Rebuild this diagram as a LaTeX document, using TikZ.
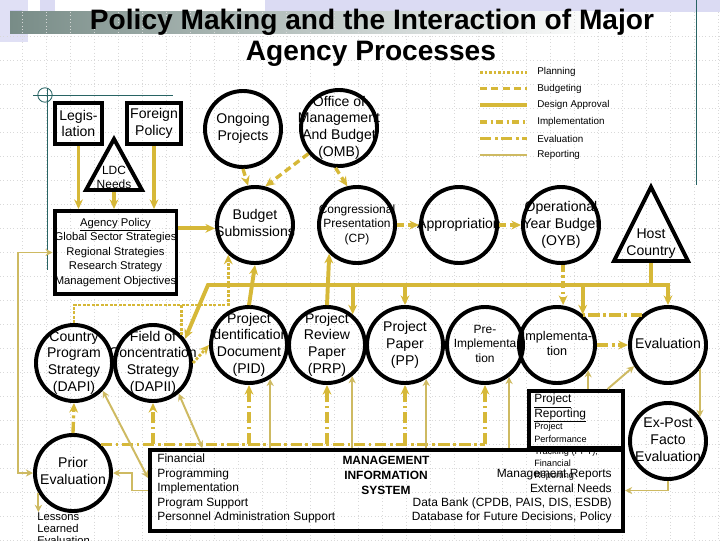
\documentclass[tikz,border=0pt]{standalone}
\usepackage{fontspec}
\setmainfont{Liberation Sans}
\usetikzlibrary{arrows.meta,positioning,calc}
\definecolor{agencyGold}{RGB}{214,184,56}
\definecolor{paleGold}{RGB}{206,186,98}
\definecolor{slideTeal}{RGB}{40,100,100}
\definecolor{lavender}{RGB}{204,204,238}
\definecolor{bannerGray}{RGB}{120,140,135}
\newcommand{\ringtext}[1]{\makebox[0pt]{\begin{tabular}{@{}c@{}}#1\end{tabular}}}

\begin{document}
\begin{tikzpicture}[
    x=0.025cm, y=-0.025cm,
    font=\fontsize{10}{12}\selectfont,
    >={Stealth[length=2.4mm,width=2.2mm]},
    ring/.style={circle, draw, line width=2.8pt, minimum size=1.9cm, inner sep=0pt},
    panel/.style={rectangle, draw, line width=2.8pt, inner sep=0pt, align=center},
    tri/.style={draw, line width=2.8pt, line join=miter},
    planline/.style={agencyGold, line width=2pt, dash pattern=on 2pt off 1.2pt},
    budgetline/.style={agencyGold, line width=2.4pt, dash pattern=on 5pt off 3pt},
    designline/.style={agencyGold, line width=2.8pt},
    implline/.style={agencyGold, line width=2.4pt, dash pattern=on 5pt off 2.5pt on 1.5pt off 2.5pt},
    evalline/.style={agencyGold, line width=2.4pt, dash pattern=on 8pt off 2.5pt on 2pt off 2.5pt},
    reportline/.style={paleGold, line width=1.4pt, >={Stealth[length=1.8mm,width=1.8mm]}},
    legtext/.style={font=\fontsize{7}{8}\selectfont, anchor=west, inner sep=0pt},
    textblock/.style={inner sep=0pt, font=\fontsize{8.5}{10.3}\selectfont}
]
\useasboundingbox (0,0) rectangle (720,540);
\clip (0,0) rectangle (720,540);

\fill[lavender!70] (265,0) rectangle (720,12);
\fill[lavender!60] (0,0) rectangle (28,42);
\fill[lavender] (10,10) rectangle (22,22);
\fill[lavender!80] (30,14) rectangle (48,30);
\fill[lavender!70] (40,0) rectangle (55,12);
\shade[left color=bannerGray, right color=white] (10,11) rectangle (600,33);
\foreach \gx in {22,46,...,718}
  \draw[gray!30, dotted, line width=0.4pt] (\gx,12) -- (\gx,540);
\foreach \gy in {36,60,...,540}
  \draw[gray!30, dotted, line width=0.4pt] (0,\gy) -- (720,\gy);
\draw[slideTeal, line width=0.6pt] (696,0) -- (696,185);
\draw[slideTeal, line width=0.6pt] (33,95) -- (173,95);
\draw[slideTeal, line width=0.6pt] (47,88) -- (47,270);
\draw[slideTeal, line width=0.6pt] (45,95) circle[radius=0.18cm];

\node[font=\bfseries\fontsize{20}{24}\selectfont] (title-top) at (372,22) {Policy Making and the Interaction of Major};
\node[font=\bfseries\fontsize{20}{24}\selectfont] (title-bottom) at (371,54) {Agency Processes};

\foreach \sty/\lab [count=\i] in {planline/Planning, budgetline/Budgeting, designline/Design Approval, implline/Implementation, evalline/Evaluation, reportline/Reporting}{
  \draw[\sty] (480,55.5+16.6*\i) -- (527,55.5+16.6*\i);
  \node[legtext] (key\i) at (537,55.5+16.6*\i) {\lab};
}

\node[panel, minimum width=1.175cm, minimum height=1.025cm] (legis) at (78.5,123.5) {Legis-\\lation};
\node[panel, minimum width=1.35cm, minimum height=1.025cm] (foreign) at (154,123.5) {Foreign\\Policy};
\draw[tri] (114,139) -- (142,190) -- (86,190) -- cycle;
\node[font=\fontsize{8.5}{10}\selectfont, align=center] (ldc) at (114,177) {LDC\\Needs};
\coordinate (ldc-base) at (114,192);
\node[panel, minimum width=3.025cm, minimum height=2.075cm, font=\fontsize{8}{10.3}\selectfont] (agency) at (115.5,252.5) {\underline{Agency Policy}\\Global Sector Strategies\\Regional Strategies\\Research Strategy\\Management Objectives};

\node[ring] (ongoing) at (243,129) {\ringtext{Ongoing\\Projects}};
\node[ring] (omb) at (339,128) {\ringtext{Office of\\Management\\And Budget\\(OMB)}};
\node[ring] (budget) at (255,225) {\ringtext{Budget\\Submissions}};
\node[ring, font=\fontsize{8.5}{10.6}\selectfont] (cp) at (357,225) {\ringtext{Congressional\\Presentation\\(CP)}};
\node[ring] (approp) at (459,225) {\ringtext{Appropriation}};
\node[ring] (oyb) at (561,225) {\ringtext{Operational\\Year Budget\\(OYB)}};
\draw[tri] (651,187) -- (688,261) -- (614,261) -- cycle;
\node[align=center] (host) at (651,244) {Host\\Country};
\coordinate (host-base) at (651,263);

\node[ring] (dapi) at (74,363) {\ringtext{Country\\Program\\Strategy\\(DAPI)}};
\node[ring] (dapii) at (153,363) {\ringtext{Field of\\Concentration\\Strategy\\(DAPII)}};
\node[ring] (pid) at (249,345) {\ringtext{Project\\Identification\\Document\\(PID)}};
\node[ring] (prp) at (327,345) {\ringtext{Project\\Review\\Paper\\(PRP)}};
\node[ring] (pp) at (405,345) {\ringtext{Project\\Paper\\(PP)}};
\node[ring, font=\fontsize{8.5}{10.3}\selectfont] (preimpl) at (485,345) {\ringtext{Pre-\\Implementa\\tion}};
\node[ring, font=\fontsize{9}{10.6}\selectfont] (impl) at (557,345) {\ringtext{Implementa-\\tion}};
\node[ring] (evaluation) at (668,345) {\ringtext{Evaluation}};
\node[ring] (prior) at (73,473) {\ringtext{Prior\\Evaluation}};
\node[ring] (expost) at (668,441) {\ringtext{Ex-Post\\Facto\\Evaluation}};
\node[textblock, anchor=north west, align=left, font=\fontsize{8}{8.6}\selectfont] (lessons) at (37,512) {Lessons\\Learned\\Evaluation};

\node[panel, minimum width=2.35cm, minimum height=1.425cm] (report) at (576,419.5) {};
\node[textblock, anchor=north west, align=left, font=\fontsize{8.5}{10}\selectfont] (reporthead) at (534,394) {\underline{Project}\\\underline{Reporting}};
\node[textblock, anchor=north west, align=left, font=\fontsize{6.5}{8.7}\selectfont] (reportbody) at (534,423) {Project\\Performance\\Tracking (PPT);\\Financial\\Reporting};
\node[panel, minimum width=11.825cm, minimum height=2.025cm] (mis) at (386.5,490.5) {};
\node[textblock, anchor=north west, align=left] (misleft) at (157,454) {Financial\\Programming\\Implementation\\Program Support\\Personnel Administration Support};
\node[font=\bfseries\fontsize{8.5}{10.6}\selectfont, align=center] (mishead) at (386,475) {MANAGEMENT\\INFORMATION\\SYSTEM};
\node[textblock, anchor=north east, align=right] (misright) at (612,469) {Management Reports\\External Needs\\Data Bank (CPDB, PAIS, DIS, ESDB)\\Database for Future Decisions, Policy};

\foreach \src in {legis, foreign}
  \draw[designline, ->] (\src.south) -- (\src.south |- agency.north);
\draw[designline, ->] (ldc-base) -- (ldc-base |- agency.north);
\draw[designline, ->] (agency.21) -- (agency.21 -| budget.west);

\draw[budgetline, ->] (ongoing.south) -- (budget.100);
\draw[budgetline, ->] (omb.-140) -- (budget.75);
\draw[budgetline, ->] (omb.-95) -- (cp.104);
\draw[budgetline, ->] (cp.east) -- (approp.west);
\draw[budgetline, ->] (approp.east) -- (oyb.west);

\coordinate (plan-row) at (0,305);
\draw[planline, ->] (dapi.north) |- (budget.-132 |- plan-row) -- (budget.-132);
\draw[planline] (dapii.44) -- (dapii.44 |- plan-row);
\draw[planline, ->] (dapii.east) -- (pid.west);

\coordinate (bus-west) at (208,285);
\draw[designline, <->] (dapii.37) -- (bus-west) -- (bus-west -| evaluation.north) -- (evaluation.north);
\draw[designline] (host-base) -- (host-base |- bus-west);
\foreach \tgt in {prp.50, pp.north, impl.50}
  \draw[designline, ->] (\tgt |- bus-west) -- (\tgt);
\draw[designline, ->] (pid.north) -- (budget.south);
\draw[designline, ->] (prp.north) -- (cp.-134);

\draw[implline, ->] (oyb.-87) -- (oyb.-87 |- impl.north);

\draw[evalline] (evaluation.131) -- (evaluation.131 -| impl.50);
\draw[evalline, ->] (impl.east) -- (evaluation.west);
\coordinate (eval-row) at (prior.46 -| preimpl.south);
\draw[evalline] (prior.46) -- (eval-row);
\draw[evalline, ->] (prior.north) -- (dapi.south);
\foreach \tgt in {dapii, pid, prp, pp, preimpl}
  \draw[evalline, ->] (\tgt.south |- eval-row) -- (\tgt.south);

\foreach \tgt in {pid.-58, prp.-51, pp.-58, preimpl.-53}
  \draw[reportline, ->] (\tgt |- mis.north) -- (\tgt);
\draw[reportline, <->] (dapi.-44) -- (mis.177);
\draw[reportline, <->] (dapii.-50) -- (mis.167.5);
\draw[reportline, <->] (agency.west) -- ++(-35,0) |- (prior.west);
\draw[reportline, ->] (mis.west) -- ++(-16,0) |- (prior.east);
\draw[reportline, ->] (prior.-150) -- (prior.-150 |- lessons.north);
\draw[reportline, ->] (impl.-39 |- report.north) -- (impl.-39);
\draw[reportline, <-] (evaluation.-148) -- (report.44);
\draw[reportline, ->] (evaluation.-37) -- (expost.37);
\draw[reportline, ->] (expost.south) |- (mis.east);
\end{tikzpicture}
\end{document}
